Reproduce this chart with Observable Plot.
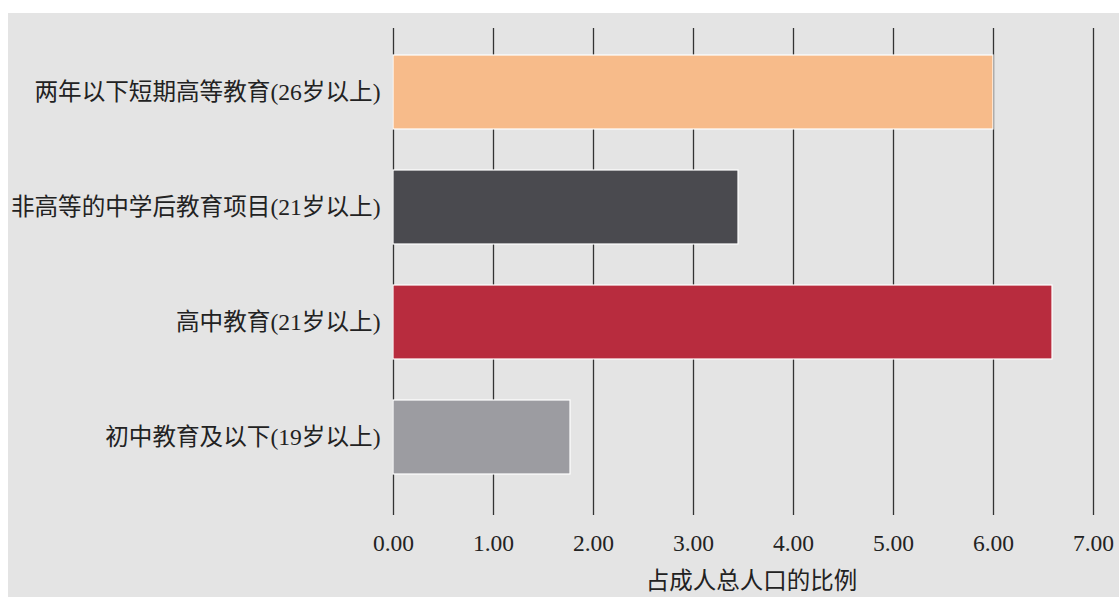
<!DOCTYPE html>
<html>
<head>
<meta charset="utf-8">
<script src="https://cdn.jsdelivr.net/npm/d3@7"></script>
<script src="https://cdn.jsdelivr.net/npm/@observablehq/plot@0.6"></script>
<style>
  html, body { margin: 0; padding: 0; background: #ffffff; }
  #chart {
    position: absolute; left: 8px; top: 13px;
    width: 1111px; height: 584px;
    background: #e4e4e4;
  }
  #chart svg { background: transparent; display: block; }
</style>
</head>
<body>
<div id="chart"></div>
<script>
// Education levels (top to bottom) and their share of the adult population
const categories = [
  "两年以下短期高等教育(26岁以上)",
  "非高等的中学后教育项目(21岁以上)",
  "高中教育(21岁以上)",
  "初中教育及以下(19岁以上)"
];
const shares = [6.00, 3.45, 6.59, 1.77];
const barColors = ["#f7bb8a", "#4a4a4f", "#b82c3e", "#9c9ca1"];
const xTicks = [0, 1, 2, 3, 4, 5, 6, 7];
const xLabel = "占成人总人口的比例";

const rows = categories.map((c, i) => ({category: c, share: shares[i], color: barColors[i]}));

const fontFamily = '"Liberation Serif", "Times New Roman", "Noto Sans CJK SC", serif';

const chart = Plot.plot({
  width: 1111,
  height: 584,
  marginLeft: 385,
  marginRight: 26,
  marginTop: 0,
  marginBottom: 82,
  style: {fontFamily, fontSize: "23px", color: "#222", background: "transparent"},
  x: {domain: [0, 7], ticks: xTicks},
  y: {domain: categories, paddingInner: 0.36, paddingOuter: 0.35},
  marks: [
    // vertical grid lines at each tick
    Plot.ruleX(xTicks, {stroke: "#333", strokeWidth: 1.3, insetTop: 15}),
    Plot.barX(rows, {
      y: "category", x: "share",
      fill: "color", stroke: "#ffffff", strokeWidth: 1.2
    }),
    Plot.axisX({
      ticks: xTicks, tickSize: 0, tickPadding: 19,
      tickFormat: d3.format(".2f"),
      fontSize: 23.5, fill: "#222",
      label: null
    }),
    Plot.axisY({tickSize: 0, tickPadding: 13, fontSize: 23.6, fill: "#222", label: null}),
    Plot.text([xLabel], {
      x: 3.58, frameAnchor: "bottom", dy: 66,
      text: d => d, fontSize: 23.5, fill: "#222", lineAnchor: "middle"
    })
  ]
});

document.getElementById("chart").append(chart);
</script>
</body>
</html>
